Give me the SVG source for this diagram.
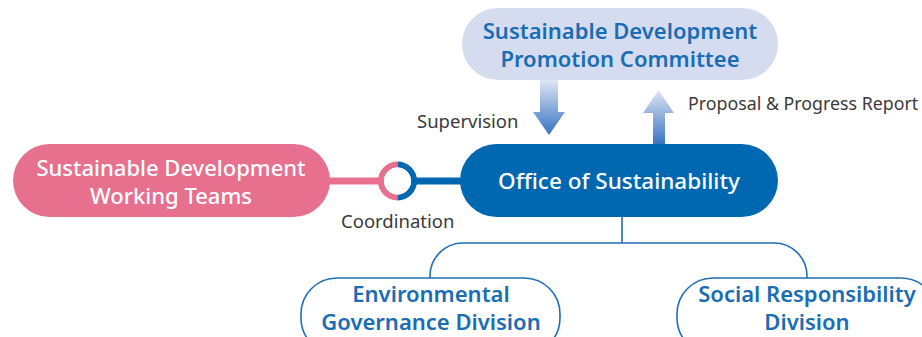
<svg xmlns="http://www.w3.org/2000/svg" width="922" height="337" viewBox="0 0 922 337">
<style>
.lbl{font-family:"Noto Sans","Open Sans","Liberation Sans",sans-serif;font-size:18.5px;fill:#3a3a3a}
.nt{font-family:"Noto Sans","Open Sans","Liberation Sans",sans-serif;font-size:22px;font-weight:500;text-anchor:middle}
.blue{fill:#1a6db5;font-weight:600}
.white{fill:#ffffff}
.tree{fill:none;stroke:#1f6fb6;stroke-width:1.6}
</style>
<defs>
<linearGradient id="ag" x1="0" y1="0" x2="0" y2="1">
<stop offset="0" stop-color="#dfe5f4"/>
<stop offset="1" stop-color="#3673c2"/>
</linearGradient>
</defs>
<rect width="922" height="337" fill="#ffffff"/>
<g id="connectors">
<path d="M540 80 H558 V112 H565 L549 135 L533 112 H540 Z" fill="url(#ag)"/>
<path d="M653 145 V113 H643 L658.5 90 L674 113 H665 V145 Z" fill="url(#ag)"/>
<line x1="328" y1="181" x2="382" y2="181" stroke="#e8708f" stroke-width="7"/>
<line x1="414" y1="181" x2="462" y2="181" stroke="#0067b1" stroke-width="7"/>
<path d="M397.5 164.5 A16.5 16.5 0 0 0 397.5 197.5" fill="none" stroke="#e8708f" stroke-width="6"/>
<path d="M397.5 164.5 A16.5 16.5 0 0 1 397.5 197.5" fill="none" stroke="#0067b1" stroke-width="6"/>
<circle cx="397.5" cy="181" r="13.5" fill="#ffffff"/>
<path class="tree" d="M622 217 V243"/>
<path class="tree" d="M430 278 V276 A33 33 0 0 1 463 243 H774 A33 33 0 0 1 807 276 V278"/>
</g>
<g id="labels">
<text class="lbl" x="417" y="128">Supervision</text>
<text class="lbl" x="688" y="110" style="font-size:17.8px">Proposal &amp; Progress Report</text>
<text class="lbl" x="341" y="228">Coordination</text>
</g>
<g id="committee">
<rect x="462" y="8" width="316" height="72" rx="36" fill="#d6dcf0"/>
<text class="nt blue" x="620" y="39">Sustainable Development</text>
<text class="nt blue" x="620" y="67">Promotion Committee</text>
</g>
<g id="working-teams">
<rect x="13" y="144" width="317" height="73" rx="36.5" fill="#e8708f"/>
<text class="nt white" x="171" y="176">Sustainable Development</text>
<text class="nt white" x="171" y="204">Working Teams</text>
</g>
<g id="office">
<rect x="460" y="144" width="318" height="73" rx="36.5" fill="#0067b1"/>
<text class="nt white" x="619" y="189" style="font-size:22.5px">Office of Sustainability</text>
</g>
<g id="environmental">
<rect x="301" y="278" width="259" height="76" rx="36" fill="#ffffff" stroke="#1f6fb6" stroke-width="1.6"/>
<text class="nt blue" x="431" y="302">Environmental</text>
<text class="nt blue" x="431" y="330">Governance Division</text>
</g>
<g id="social">
<rect x="677" y="278" width="260" height="76" rx="36" fill="#ffffff" stroke="#1f6fb6" stroke-width="1.6"/>
<text class="nt blue" x="807" y="302">Social Responsibility</text>
<text class="nt blue" x="807" y="330">Division</text>
</g>
</svg>
